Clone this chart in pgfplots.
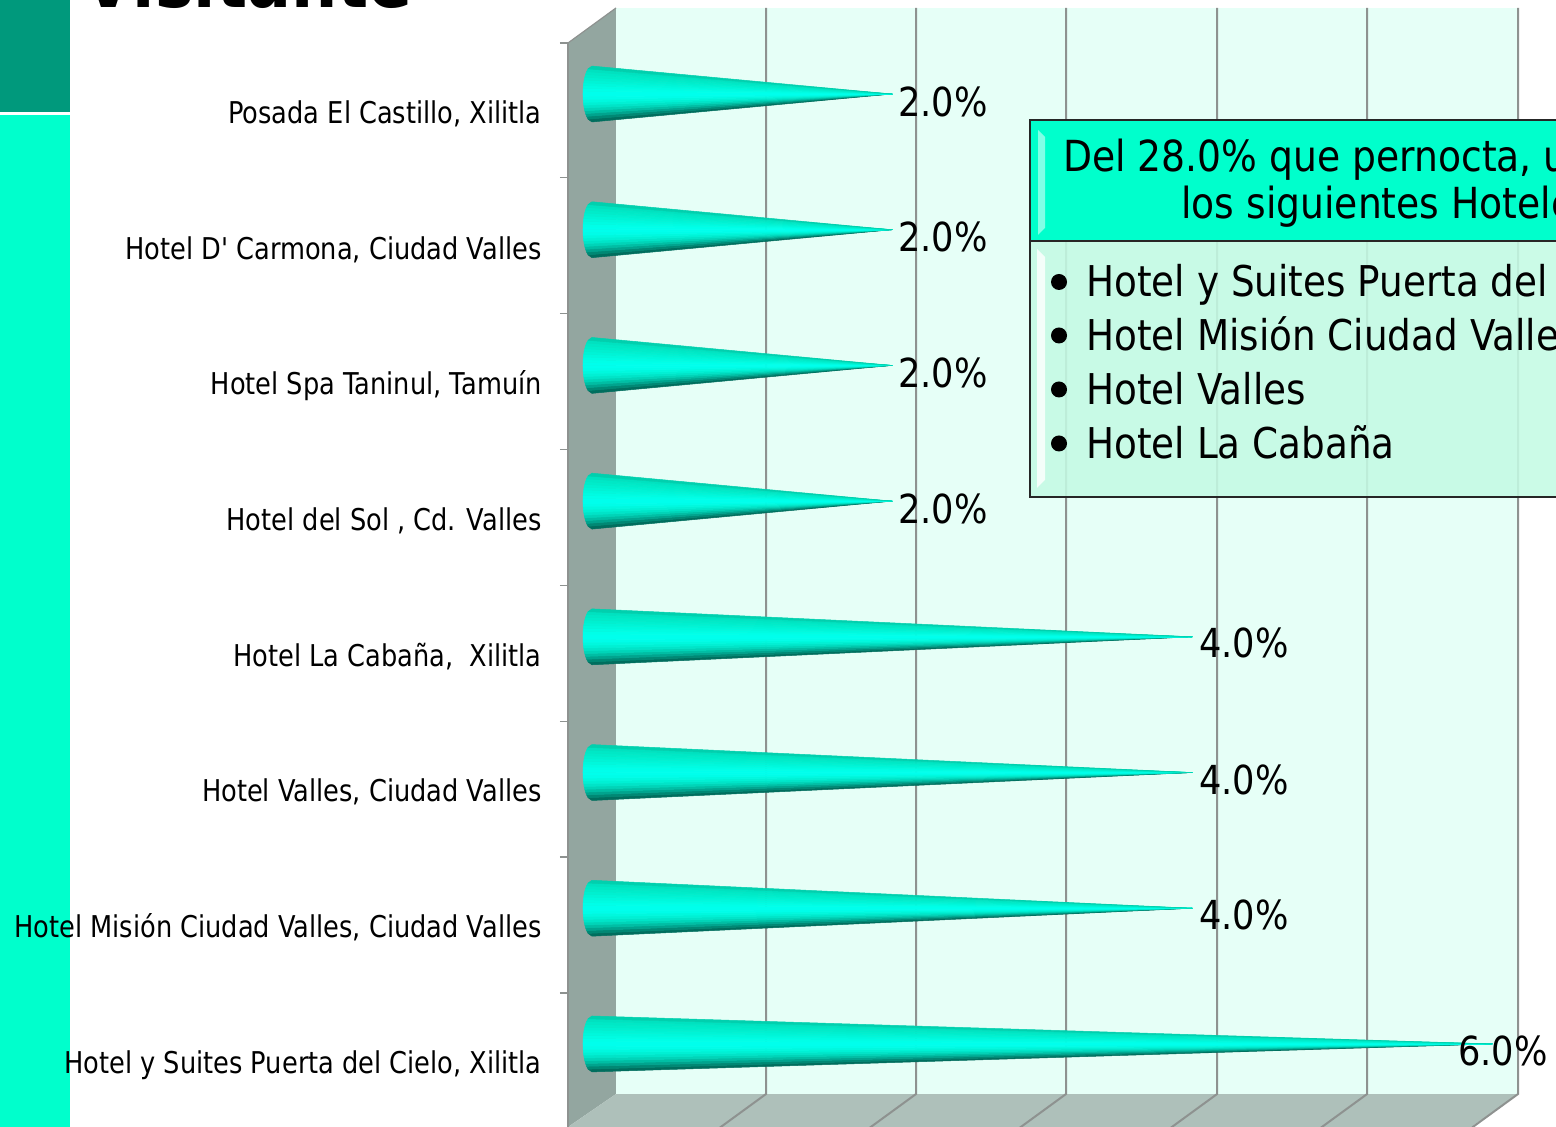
\documentclass[border=0pt]{standalone}
\usepackage{pgfplots}
\pgfplotsset{compat=1.18}
\usepackage{fontspec}
\setmainfont{DejaVu Sans}[FakeStretch=0.88]
\newfontfamily\labelfont{DejaVu Sans}[FakeStretch=0.855]
\definecolor{bandc}{HTML}{00FFCC}
\definecolor{bandd}{HTML}{00997C}
\definecolor{wallb}{HTML}{E6FFF7}
\definecolor{walll}{HTML}{93A6A0}
\definecolor{wallf}{HTML}{AEC0BA}
\definecolor{gridc}{HTML}{8E9290}
\definecolor{cs0}{HTML}{006E5E}
\definecolor{cs1}{HTML}{008874}
\definecolor{cs2}{HTML}{00A48E}
\definecolor{cs3}{HTML}{00BEA4}
\definecolor{cs4}{HTML}{00D4B8}
\definecolor{cs5}{HTML}{00E4C8}
\definecolor{cs6}{HTML}{00F0D4}
\definecolor{cs7}{HTML}{00F8DE}
\definecolor{cs8}{HTML}{00FDE8}
\definecolor{cs9}{HTML}{00FFEC}
\definecolor{cs10}{HTML}{00FFEC}
\definecolor{cs11}{HTML}{00FFE8}
\definecolor{cs12}{HTML}{00FCE2}
\definecolor{cs13}{HTML}{00F8DC}
\definecolor{cs14}{HTML}{00F4D6}
\definecolor{cs15}{HTML}{00F0D0}
\definecolor{cs16}{HTML}{00ECCA}
\definecolor{cs17}{HTML}{00E8C6}
\definecolor{cs18}{HTML}{00E2C0}
\definecolor{cs19}{HTML}{00D0AE}
\tikzset{pxframe/.style={x=0.5pt,y=-0.5pt,shift={(-284pt,563.5pt)}}}
% one cone: #1 category position, #2 value in percent
\newcommand\cone[2]{%
  \foreach \i in {0,...,19}{%
    \pgfmathsetmacro\ya{-0.206+0.0206*\i}%
    \pgfmathsetmacro\yb{-0.206+0.0206*(\i+1)}%
    \pgfmathsetmacro\xa{-0.06*sqrt(max(0,1-(\ya/0.206)^2))}%
    \pgfmathsetmacro\xb{-0.06*sqrt(max(0,1-(\yb/0.206)^2))}%
    \pgfmathsetmacro\pa{#1+0.008+\ya}%
    \pgfmathsetmacro\pb{#1+0.008+\yb}%
    \pgfmathsetmacro\pc{#1+0.008}%
    \edef\temp{\noexpand\addplot[fill=cs\i,draw=cs\i,line width=0.25pt,line join=round,forget plot]
      coordinates {(#2,\pc) (\xa,\pa) (\xb,\pb)} --cycle;}%
    \temp
  }%
}
\begin{document}
\begin{tikzpicture}
\path[use as bounding box,clip] (-284pt,0pt) rectangle (494pt,563.5pt);
\begin{scope}[pxframe]
  \fill[bandd] (0,0) rectangle (70,112);
  \fill[bandc] (0,115) rectangle (70,1127);
  \node[anchor=base west,inner sep=0pt,font={\fontsize{37pt}{42pt}\selectfont\bfseries}] at (83,8) {Visitante};
\end{scope}
\begin{axis}[
  at={(0pt,0pt)},anchor=south west,
  width=475pt,height=559.5pt,scale only axis,
  xmin=-0.16,xmax=6.173,ymin=-0.604,ymax=7.642,
  clip=false,
  axis line style={draw=none},
  xtick=\empty,
  ytick pos=left,
  ytick={-0.15,0.85,1.85,2.85,3.85,4.85,5.85,6.85},
  yticklabels={{Hotel y Suites Puerta del Cielo, Xilitla},
    {Hotel Misión Ciudad Valles, Ciudad Valles},
    {Hotel Valles, Ciudad Valles},
    {Hotel La Cabaña,\ \ Xilitla},
    {Hotel del Sol , Cd. Valles},
    {Hotel Spa Taninul, Tamuín},
    {Hotel D' Carmona, Ciudad Valles},
    {Posada El Castillo, Xilitla}},
  yticklabel style={anchor=east,inner sep=0pt,xshift=-13pt,text height=11pt,text depth=3pt,
    font=\labelfont\fontsize{15pt}{18pt}\selectfont},
  major tick length=0pt,
  tick align=outside,
  extra y ticks={0.383,1.385,2.387,3.389,4.391,5.393,6.395,7.384},
  extra y tick labels={},
  extra tick style={major tick length=4pt,tick style={color=gridc,line width=0.6pt}},
]
% walls
\fill[wallb] (axis cs:0.16,-0.361) rectangle (axis cs:6.173,7.642);
\fill[walll] (axis cs:-0.16,7.384) -- (axis cs:0.16,7.642) -- (axis cs:0.16,-0.361) -- (axis cs:-0.16,-0.604) -- cycle;
\fill[wallf] (axis cs:-0.16,-0.604) -- (axis cs:0.16,-0.361) -- (axis cs:6.173,-0.361) -- (axis cs:5.86,-0.604) -- cycle;
% grid
\pgfplotsinvokeforeach{1.16,2.16,3.16,4.167,5.167,6.173}{
  \draw[gridc,line width=1pt] (axis cs:#1,7.642) -- (axis cs:#1,-0.361) -- ++(-24pt,-17.5pt);
}
\draw[gridc,line width=1pt] (axis cs:-0.16,7.384) -- (axis cs:-0.16,-0.604);
\draw[gridc,line width=0.6pt] (axis cs:-0.16,7.384) -- (axis cs:0.16,7.642);
% cones
\cone{0}{6}
\cone{1}{4}
\cone{2}{4}
\cone{3}{4}
\cone{4}{2}
\cone{5}{2}
\cone{6}{2}
\cone{7}{2}
% data labels
\tikzset{dl/.style={inner sep=0pt,font=\fontsize{20pt}{23pt}\selectfont}}
\node[dl] at (axis cs:6.073,-0.045) {6.0\%};
\node[dl] at (axis cs:4.345,0.958) {4.0\%};
\node[dl] at (axis cs:4.345,1.954) {4.0\%};
\node[dl] at (axis cs:4.345,2.962) {4.0\%};
\node[dl] at (axis cs:2.34,3.95) {2.0\%};
\node[dl] at (axis cs:2.34,4.952) {2.0\%};
\node[dl] at (axis cs:2.34,5.953) {2.0\%};
\node[dl] at (axis cs:2.34,6.95) {2.0\%};
\end{axis}
\begin{scope}[pxframe]
  % callout
  \fill[fill=bandc] (1030,120) rectangle (1600,241);
  \fill[fill=white!50!bandc] (1038,130) -- (1045,137) -- (1045,228) -- (1038,235) -- cycle;
  \fill[fill={rgb,255:red,196;green,250;blue,228},fill opacity=0.88] (1030,241) rectangle (1600,497);
  \fill[white,opacity=0.8] (1037,249) -- (1045,257) -- (1045,480) -- (1037,488) -- cycle;
  \draw[black!85,line width=1pt] (1600,120) -- (1030,120) -- (1030,497) -- (1600,497);
  \draw[black!85,line width=1pt] (1030,241) -- (1600,241);
  \tikzset{co/.style={anchor=base west,inner sep=0pt,font=\fontsize{21.4pt}{24pt}\selectfont}}
  \tikzset{cb/.style={anchor=base west,inner sep=0pt,font=\fontsize{21.2pt}{24pt}\selectfont}}
  \node[co] at (1063,172) {Del 28.0\% que pernocta, u};
  \node[co] at (1181,219) {los siguientes Hoteles};
  \foreach \yy/\tt in {297/Hotel y Suites Puerta del Cielo,350.5/Hotel Misión Ciudad Valles,404.5/Hotel Valles,458.5/Hotel La Cabaña}{
    \node[cb] at (1086,\yy) {\tt};
    \fill[black] (1059,\yy-15) circle (8);
  }
\end{scope}
\end{tikzpicture}
\end{document}
